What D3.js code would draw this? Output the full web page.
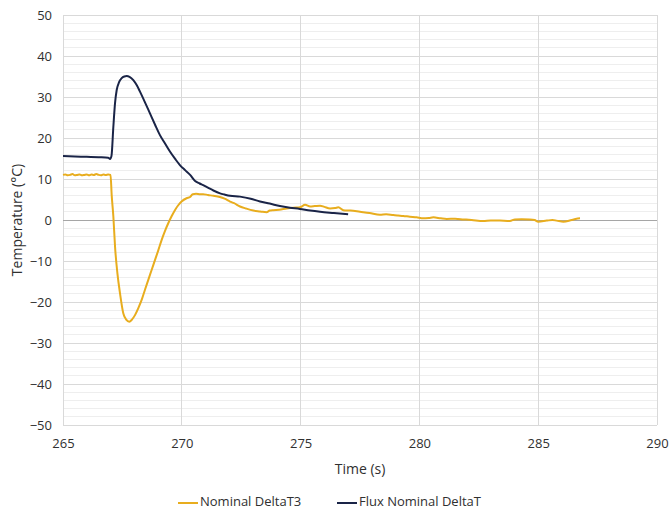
<!DOCTYPE html>
<html>
<head>
<meta charset="utf-8">
<script src="https://cdn.jsdelivr.net/npm/d3@7"></script>
<style>
  html, body { margin: 0; padding: 0; background: #fff; }
  svg { display: block; font-family: "Open Sans", "Noto Sans", sans-serif; }
</style>
</head>
<body>
<svg id="chart" width="670" height="512"></svg>
<script>
// ---------- data ----------
const xTicks = [265, 270, 275, 280, 285, 290];
const yTicks = [-50, -40, -30, -20, -10, 0, 10, 20, 30, 40, 50];
const seriesNames = ["Nominal DeltaT3", "Flux Nominal DeltaT"];

// Nominal DeltaT3 (gold)
const goldTime = [265.0, 265.1, 265.2, 265.3, 265.4, 265.5, 265.6, 265.7, 265.8, 265.9,
  266.0, 266.1, 266.2, 266.3, 266.4, 266.5, 266.6, 266.7, 266.8, 266.9, 267.0,
  267.05, 267.12, 267.19, 267.29, 267.4, 267.54, 267.66, 267.79, 267.9, 268.03, 268.17, 268.31,
  268.45, 268.59, 268.73, 268.87, 269.01, 269.15, 269.29, 269.43, 269.57, 269.71, 269.85, 269.99,
  270.2, 270.35, 270.46, 270.6, 270.77, 270.9, 271.1, 271.33, 271.6, 271.8, 272.03, 272.2, 272.45,
  272.7, 273.01, 273.3, 273.57, 273.7, 273.85, 274.1, 274.41, 274.7, 274.97, 275.19, 275.4, 275.6,
  275.82, 276.0, 276.24, 276.45, 276.59, 276.8, 277.1, 277.5, 277.9, 278.34, 278.6, 278.9, 279.1,
  279.32, 279.6, 279.88, 280.16, 280.4, 280.59, 280.9, 281.15, 281.5, 281.85, 282.2, 282.69, 283.0,
  283.39, 283.81, 284.02, 284.3, 284.65, 284.85, 285.0, 285.36, 285.6, 285.78, 286.06, 286.41, 286.76, 287.01];
const goldValue = [11.0, 11.1, 10.9, 11.0, 11.2, 10.9, 11.0, 11.1, 10.9, 11.0,
  11.1, 10.9, 11.1, 11.0, 11.2, 11.0, 10.9, 11.1, 11.0, 11.1, 11.0,
  6.0, 0.8, -6.5, -13.0, -17.9, -22.8, -24.3, -24.8, -24.3, -23.2, -21.5, -19.5,
  -17.0, -14.6, -12.2, -9.8, -7.4, -4.9, -2.7, -0.8, 0.9, 2.4, 3.6, 4.5,
  5.3, 5.6, 6.3, 6.4, 6.3, 6.3, 6.1, 5.9, 5.6, 5.2, 4.5, 4.1, 3.3,
  2.8, 2.3, 2.1, 1.9, 2.3, 2.4, 2.5, 2.8, 3.0, 3.1, 3.7, 3.3, 3.4,
  3.5, 3.2, 2.8, 2.9, 3.1, 2.4, 2.3, 2.0, 1.7, 1.3, 1.4, 1.2, 1.1,
  1.0, 0.8, 0.65, 0.4, 0.5, 0.65, 0.4, 0.25, 0.3, 0.15, 0.0, -0.25, -0.1,
  -0.15, -0.25, 0.15, 0.2, 0.15, 0.0, -0.4, -0.15, 0.0, -0.15, -0.4, 0.0, 0.4];

// Flux Nominal DeltaT (navy)
const navyTime = [265.0, 265.5, 266.0, 266.5, 266.9, 266.98, 267.04, 267.12, 267.19, 267.26,
  267.36, 267.47, 267.58, 267.68, 267.8, 267.96, 268.1, 268.24, 268.45, 268.66, 268.87, 269.08,
  269.3, 269.5, 269.72, 269.92, 270.15, 270.35, 270.56, 270.75, 270.9, 271.1, 271.33, 271.61,
  271.8, 272.03, 272.45, 272.9, 273.29, 273.7, 274.13, 274.55, 274.97, 275.4, 275.82, 276.4, 277.0];
const navyValue = [15.6, 15.5, 15.4, 15.3, 15.2, 14.9, 15.6, 22.8, 28.5, 31.7,
  33.6, 34.6, 35.0, 35.1, 34.9, 34.1, 32.9, 31.3, 28.7, 26.0, 23.3, 20.7,
  18.6, 16.7, 14.9, 13.4, 12.1, 11.0, 9.5, 8.9, 8.5, 7.9, 7.2, 6.5,
  6.2, 5.9, 5.7, 5.2, 4.5, 4.0, 3.4, 3.0, 2.7, 2.3, 2.0, 1.7, 1.4];

// ---------- layout ----------
const svg = d3.select("#chart");
const plotLeft = 63, plotRight = 657, plotTop = 15, plotBottom = 425;
const x = d3.scaleLinear().domain([265, 290]).range([plotLeft, plotRight]);
const y = d3.scaleLinear().domain([-50, 50]).range([plotBottom, plotTop]);
const textColor = "#303030";
const colors = ["#E8AD1E", "#1A2447"];

// minor horizontal gridlines
const minor = d3.range(-50, 51, 2).filter(v => v % 10 !== 0);
svg.append("g").selectAll("line").data(minor).join("line")
  .attr("x1", plotLeft).attr("x2", plotRight)
  .attr("y1", d => y(d)).attr("y2", d => y(d))
  .attr("stroke", "#eeeeee").attr("stroke-width", 1)
  .attr("shape-rendering", "crispEdges");

// major horizontal gridlines
svg.append("g").selectAll("line").data(yTicks.filter(v => v !== 0)).join("line")
  .attr("x1", plotLeft).attr("x2", plotRight)
  .attr("y1", d => y(d)).attr("y2", d => y(d))
  .attr("stroke", "#d9d9d9").attr("stroke-width", 1)
  .attr("shape-rendering", "crispEdges");

// vertical gridlines
svg.append("g").selectAll("line").data(xTicks).join("line")
  .attr("x1", d => x(d)).attr("x2", d => x(d))
  .attr("y1", plotTop).attr("y2", plotBottom)
  .attr("stroke", "#d9d9d9").attr("stroke-width", 1)
  .attr("shape-rendering", "crispEdges");

// zero line
svg.append("line")
  .attr("x1", plotLeft).attr("x2", plotRight).attr("y1", y(0)).attr("y2", y(0))
  .attr("stroke", "#a6a6a6").attr("stroke-width", 1)
  .attr("shape-rendering", "crispEdges");

// axes (labels only)
const yAxis = svg.append("g").attr("transform", `translate(${plotLeft},0)`)
  .call(d3.axisLeft(y).tickValues(yTicks).tickSize(0).tickPadding(11).tickFormat(d3.format("d")));
yAxis.select(".domain").remove();
yAxis.selectAll("text").attr("fill", textColor).style("font-size", "13px")
  .style("font-family", "'Open Sans', sans-serif");

const xAxis = svg.append("g").attr("transform", `translate(0,${plotBottom})`)
  .call(d3.axisBottom(x).tickValues(xTicks).tickSize(0).tickPadding(14).tickFormat(d3.format("d")));
xAxis.select(".domain").remove();
xAxis.selectAll("text").attr("fill", textColor).style("font-size", "13px")
  .style("font-family", "'Open Sans', sans-serif");

// series
const line = d3.line().x(d => x(d[0])).y(d => y(d[1])).curve(d3.curveMonotoneX);
const goldData = goldTime.map((t, i) => [t, goldValue[i]]);
const navyData = navyTime.map((t, i) => [t, navyValue[i]]);
svg.append("path").datum(goldData).attr("d", line)
  .attr("fill", "none").attr("stroke", colors[0]).attr("stroke-width", 2)
  .attr("stroke-linejoin", "round");
svg.append("path").datum(navyData).attr("d", line)
  .attr("fill", "none").attr("stroke", colors[1]).attr("stroke-width", 2)
  .attr("stroke-linejoin", "round");

// axis titles
svg.append("text").attr("x", (plotLeft + plotRight) / 2).attr("y", 470)
  .attr("text-anchor", "middle").attr("dominant-baseline", "middle")
  .attr("fill", textColor).style("font-size", "14px").text("Time (s)");
svg.append("text").attr("transform", `translate(18,${(plotTop + plotBottom) / 2}) rotate(-90)`)
  .attr("text-anchor", "middle").attr("dominant-baseline", "middle")
  .attr("fill", textColor).style("font-size", "14px").text("Temperature (°C)");

// legend
const legendY = 503;
const legendX = [178, 337];
seriesNames.forEach((name, i) => {
  const g = svg.append("g").attr("transform", `translate(${legendX[i]},${legendY})`);
  g.append("line").attr("x1", 0).attr("x2", 20).attr("y1", 0).attr("y2", 0)
    .attr("stroke", colors[i]).attr("stroke-width", 2);
  g.append("text").attr("x", 22).attr("y", 0).attr("dominant-baseline", "middle")
    .attr("fill", textColor).style("font-size", "13px").text(name);
});
</script>
</body>
</html>
